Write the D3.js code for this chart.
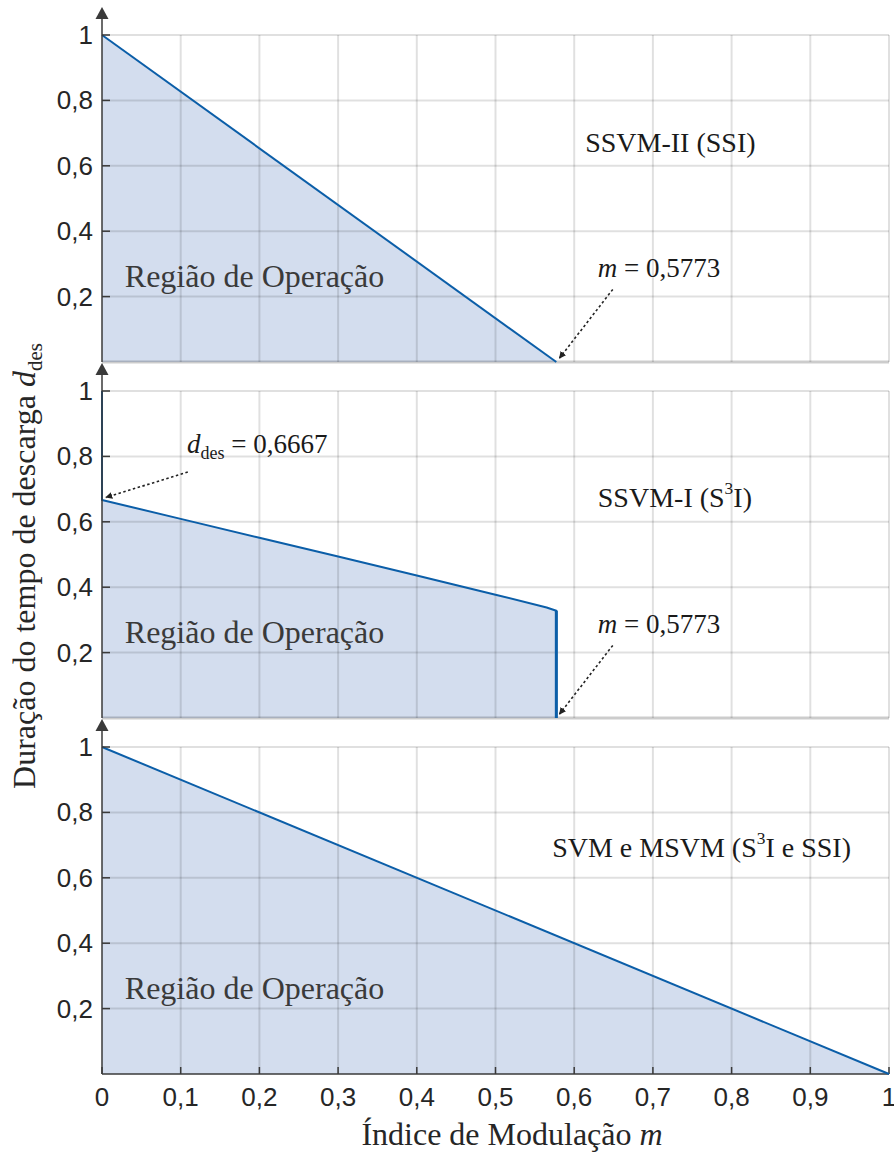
<!DOCTYPE html>
<html>
<head>
<meta charset="utf-8">
<script src="https://cdn.jsdelivr.net/npm/d3@7"></script>
<style>
  html, body { margin: 0; padding: 0; background: #fff; }
  svg { display: block; }
</style>
</head>
<body>
<svg id="chart" width="894" height="1158"></svg>
<script>
// ---------------- data ----------------
const xTickValues = [0, 0.1, 0.2, 0.3, 0.4, 0.5, 0.6, 0.7, 0.8, 0.9, 1];
const xTickLabels = ["0", "0,1", "0,2", "0,3", "0,4", "0,5", "0,6", "0,7", "0,8", "0,9", "1"];
const yTickValues = [0.2, 0.4, 0.6, 0.8, 1];
const yTickLabels = ["0,2", "0,4", "0,6", "0,8", "1"];

// Panel 1: SSVM-II (SSI)
const ssvm2M = [0, 0.5773];
const ssvm2D = [1, 0];
// Panel 2: SSVM-I (S3I)
const ssvm1M = [0, 0, 0.1, 0.2, 0.3, 0.4, 0.5, 0.565, 0.5773, 0.5773];
const ssvm1D = [1, 0.6667, 0.609, 0.551, 0.494, 0.436, 0.377, 0.338, 0.328, 0];
// Panel 3: SVM e MSVM
const svmM = [0, 1];
const svmD = [1, 0];

const panelNames = ["SSVM-II (SSI)", "SSVM-I (S3I)", "SVM e MSVM (S3I e SSI)"];
const regionLabel = "Região de Operação";
const mLimit = 0.5773;
const dLimit = 0.6667;

// ---------------- layout ----------------
const svg = d3.select("#chart");
const X0 = 102, X1 = 889;
const panelTops = [35, 391, 747];
const plotH = 327;

const x = d3.scaleLinear().domain([0, 1]).range([X0, X1]);

const fillColor = "#d3ddee";
const lineColor = "#0b5ea8";
const gridColor = "rgba(0,0,0,0.12)";
const axisColor = "#3a3a3a";
const serif = "'Liberation Serif', 'Times New Roman', serif";
const sans = "'Liberation Sans', Arial, sans-serif";

const defs = svg.append("defs");
defs.append("marker")
  .attr("id", "ah")
  .attr("viewBox", "0 0 10 10")
  .attr("refX", 9).attr("refY", 5)
  .attr("markerWidth", 7).attr("markerHeight", 7)
  .attr("markerUnits", "userSpaceOnUse")
  .attr("orient", "auto")
  .append("path").attr("d", "M0,0 L10,5 L0,10 Z").attr("fill", "#222");

const series = [
  { m: ssvm2M, d: ssvm2D },
  { m: ssvm1M, d: ssvm1D },
  { m: svmM, d: svmD }
];

function drawSuperLabel(g, txt, px, py, size) {
  const t = g.append("text").attr("x", px).attr("y", py)
    .attr("font-family", serif).attr("font-size", size).attr("fill", "#1a1a1a");
  const parts = txt.split("S3I");
  parts.forEach((p, i) => {
    t.append("tspan").text(p);
    if (i < parts.length - 1) {
      t.append("tspan").text("S");
      t.append("tspan").attr("dy", -size * 0.45).attr("dx", 0).attr("font-size", size * 0.62).text("3");
      t.append("tspan").attr("dy", size * 0.45).attr("dx", 0).text("I");
    }
  });
  return t;
}

series.forEach((s, i) => {
  const top = panelTops[i];
  const y = d3.scaleLinear().domain([0, 1]).range([top + plotH, top]);
  const g = svg.append("g");
  const pts = s.m.map((mv, k) => [mv, s.d[k]]);

  // fill (operation region)
  const fillPts = (i === 1) ? pts.slice(1) : pts;
  g.append("path")
    .datum(fillPts)
    .attr("fill", fillColor)
    .attr("d", d3.area().x(p => x(p[0])).y0(y(0)).y1(p => y(p[1])));

  // grid
  g.selectAll(".vg").data(xTickValues.slice(1)).enter().append("line")
    .attr("x1", v => x(v)).attr("x2", v => x(v))
    .attr("y1", y(1)).attr("y2", y(0))
    .attr("stroke", gridColor).attr("stroke-width", 2);
  g.selectAll(".hg").data(yTickValues).enter().append("line")
    .attr("x1", x(0)).attr("x2", x(1))
    .attr("y1", v => y(v)).attr("y2", v => y(v))
    .attr("stroke", gridColor).attr("stroke-width", 2);

  // baseline
  if (i < 2) {
    g.append("line").attr("x1", x(0)).attr("x2", x(1))
      .attr("y1", y(0)).attr("y2", y(0))
      .attr("stroke", "rgba(0,0,0,0.2)").attr("stroke-width", 3);
  } else {
    g.append("line").attr("x1", x(0)).attr("x2", x(1))
      .attr("y1", y(0)).attr("y2", y(0))
      .attr("stroke", axisColor).attr("stroke-width", 1.5);
    g.selectAll(".xt").data(xTickValues).enter().append("line")
      .attr("x1", v => x(v)).attr("x2", v => x(v))
      .attr("y1", y(0)).attr("y2", y(0) - 7)
      .attr("stroke", axisColor).attr("stroke-width", 1.5);
    g.selectAll(".xl").data(xTickValues).enter().append("text")
      .attr("x", v => x(v)).attr("y", y(0) + 32)
      .attr("text-anchor", "middle")
      .attr("font-family", sans).attr("font-size", 26).attr("fill", "#262626")
      .text((v, k) => xTickLabels[k]);
  }

  // data line
  g.append("path").datum(pts)
    .attr("fill", "none").attr("stroke", lineColor)
    .attr("stroke-width", 2).attr("stroke-linejoin", "round")
    .attr("d", d3.line().x(p => x(p[0])).y(p => y(p[1])));

  // y axis
  g.append("line").attr("x1", x(0)).attr("x2", x(0))
    .attr("y1", y(0)).attr("y2", top - 26)
    .attr("stroke", axisColor).attr("stroke-width", 1.5);
  g.append("path")
    .attr("d", `M${x(0)},${top - 28} L${x(0) - 6.5},${top - 16} L${x(0) + 6.5},${top - 16} Z`)
    .attr("fill", axisColor);
  g.selectAll(".yt").data(yTickValues).enter().append("line")
    .attr("x1", x(0)).attr("x2", x(0) + 8)
    .attr("y1", v => y(v)).attr("y2", v => y(v))
    .attr("stroke", axisColor).attr("stroke-width", 1.5);
  g.selectAll(".yl").data(yTickValues).enter().append("text")
    .attr("x", x(0) - 9).attr("y", v => y(v) + 9)
    .attr("text-anchor", "end")
    .attr("font-family", sans).attr("font-size", 26).attr("fill", "#262626")
    .text((v, k) => yTickLabels[k]);

  // region label
  g.append("text").attr("x", x(0.029)).attr("y", y(0.228))
    .attr("font-family", serif).attr("font-size", 32).attr("fill", "#3a3a3a")
    .text(regionLabel);

  // panel name
  const namePos = [[0.614, 0.641], [0.630, 0.645], [0.572, 0.665]][i];
  drawSuperLabel(g, panelNames[i], x(namePos[0]), y(namePos[1]), 28);

  // m = 0,5773 annotation
  if (i < 2) {
    const t = g.append("text").attr("x", x(0.630)).attr("y", y(0.26))
      .attr("font-family", serif).attr("font-size", 27).attr("fill", "#1a1a1a");
    t.append("tspan").attr("font-style", "italic").text("m");
    t.append("tspan").text(" = " + String(mLimit).replace(".", ","));
    g.append("line")
      .attr("x1", x(0.649)).attr("y1", y(0.222))
      .attr("x2", x(mLimit + 0.004)).attr("y2", y(0.012))
      .attr("stroke", "#222").attr("stroke-width", 1.6)
      .attr("stroke-dasharray", "2.5,2.5")
      .attr("marker-end", "url(#ah)");
  }
  if (i === 1) {
    // thicker vertical drop at m = 0,5773
    g.append("line")
      .attr("x1", x(mLimit)).attr("x2", x(mLimit))
      .attr("y1", y(s.d[s.d.length - 2])).attr("y2", y(0))
      .attr("stroke", lineColor).attr("stroke-width", 3);
    const t = g.append("text").attr("x", x(0.108)).attr("y", y(0.81))
      .attr("font-family", serif).attr("font-size", 27).attr("fill", "#1a1a1a");
    t.append("tspan").attr("font-style", "italic").text("d");
    t.append("tspan").attr("font-size", 18).attr("dy", 6).text("des");
    t.append("tspan").attr("dy", -6).text(" = " + String(dLimit).replace(".", ","));
    g.append("line")
      .attr("x1", x(0.109)).attr("y1", y(0.752))
      .attr("x2", x(0.005)).attr("y2", y(dLimit + 0.008))
      .attr("stroke", "#222").attr("stroke-width", 1.6)
      .attr("stroke-dasharray", "2.5,2.5")
      .attr("marker-end", "url(#ah)");
  }
});

// axis titles
const xt = svg.append("text").attr("x", 512).attr("y", 1145)
  .attr("text-anchor", "middle")
  .attr("font-family", serif).attr("font-size", 32).attr("fill", "#262626");
xt.append("tspan").text("Índice de Modulação ");
xt.append("tspan").attr("font-style", "italic").text("m");

const yt = svg.append("text")
  .attr("transform", "translate(35,566) rotate(-90)")
  .attr("text-anchor", "middle")
  .attr("font-family", serif).attr("font-size", 32).attr("fill", "#262626");
yt.append("tspan").text("Duração do tempo de descarga ");
yt.append("tspan").attr("font-style", "italic").text("d");
yt.append("tspan").attr("font-size", 21).attr("dy", 7).text("des");
</script>
</body>
</html>
